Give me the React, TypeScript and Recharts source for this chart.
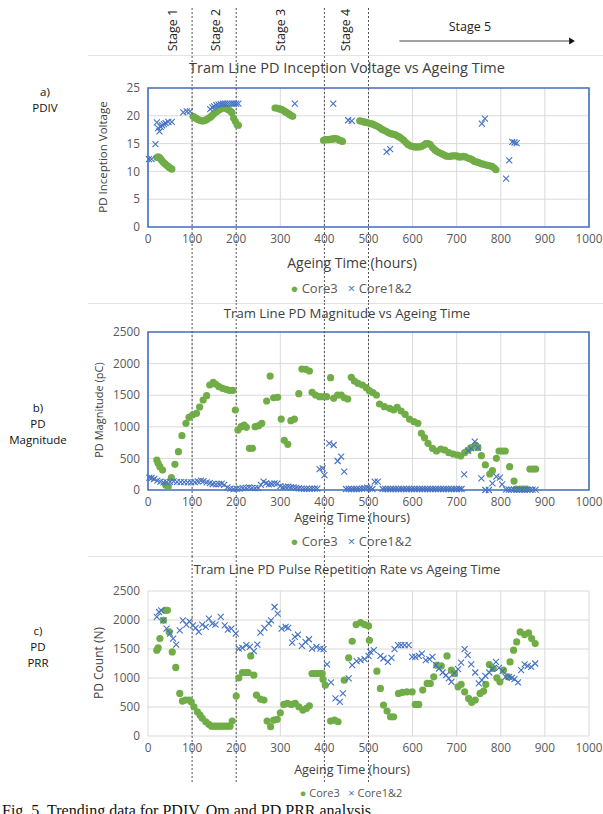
import React from 'react';
import { ScatterChart, Scatter, XAxis, YAxis, CartesianGrid, ReferenceLine, ReferenceArea } from 'recharts';

// ageing time axis (hours) + stage boundaries
const HOUR_TICKS = [0, 100, 200, 300, 400, 500, 600, 700, 800, 900, 1000];
const STAGE_BOUNDS = [100, 200, 400, 500];
const STAGE_LABELS = ['Stage 1', 'Stage 2', 'Stage 3', 'Stage 4'];
const STAGE_LABEL_AT = [55, 152, 300, 448];

const PDIV_TICKS = [0, 5, 10, 15, 20, 25];
const COUNT_TICKS = [0, 500, 1000, 1500, 2000, 2500];

// a) PDIV [hours, kV]
const pdivCore3: [number, number][] = [
  [20, 12.5], [23, 12.6], [26, 12.5], [29, 12.2], [32, 11.9], [35, 11.6], [38, 11.4], [41, 11.2], [44, 11.0], [47, 10.8], [50, 10.6], [54, 10.4],
  [102, 19.9], [106, 19.7], [110, 19.5], [114, 19.3], [118, 19.2], [122, 19.1], [126, 19.1], [130, 19.2], [134, 19.4], [138, 19.6], [142, 19.8],
  [146, 20.1], [150, 20.4], [154, 20.7], [158, 20.9], [162, 21.1], [166, 21.3], [170, 21.4], [174, 21.4], [178, 21.3], [182, 21.1], [186, 20.9],
  [190, 20.6], [194, 19.6], [198, 19.0], [202, 18.4], [205, 18.3],
  [288, 21.4], [292, 21.4], [296, 21.3], [300, 21.2], [304, 21.1], [308, 20.9], [312, 20.7], [316, 20.5], [320, 20.3], [324, 20.1], [328, 19.9],
  [398, 15.6], [402, 15.7], [406, 15.7], [410, 15.7], [414, 15.8], [418, 15.8], [422, 15.9], [426, 15.9], [430, 15.8], [434, 15.6], [438, 15.5], [441, 15.4],
  [480, 19.1], [485, 19.0], [490, 18.9], [495, 18.8], [500, 18.7], [505, 18.6], [510, 18.5], [515, 18.3], [520, 18.1], [525, 17.9], [530, 17.6],
  [535, 17.4], [540, 17.2], [545, 17.0], [550, 16.8], [555, 16.7], [560, 16.6], [565, 16.4], [570, 16.2], [575, 15.9], [580, 15.6], [585, 15.2],
  [590, 14.8], [595, 14.6], [600, 14.5], [605, 14.4], [610, 14.4], [615, 14.4], [620, 14.5], [625, 14.7], [630, 15.0], [635, 15.0], [640, 14.8],
  [645, 14.3], [650, 13.9], [655, 13.6], [660, 13.4], [665, 13.2], [670, 13.0], [675, 12.8], [680, 12.7], [685, 12.7], [690, 12.8], [695, 12.8],
  [700, 12.8], [705, 12.6], [710, 12.6], [715, 12.7], [720, 12.6], [725, 12.4], [730, 12.3], [735, 12.1], [740, 11.8], [745, 11.7], [750, 11.6],
  [755, 11.4], [760, 11.3], [765, 11.2], [770, 11.1], [775, 11.0], [780, 10.9], [785, 10.6], [789, 10.3],
];
const pdivCore12: [number, number][] = [
  [2, 12.2], [8, 12.2], [17, 14.9], [20, 18.8], [23, 17.8], [26, 17.2], [29, 18.0], [32, 18.3], [36, 18.5], [40, 18.7], [46, 18.9], [54, 18.9],
  [80, 20.6], [88, 20.8], [95, 20.8], [141, 21.2], [146, 21.5], [150, 21.7], [155, 21.9], [160, 22.0], [165, 22.1], [170, 22.2], [175, 22.2],
  [180, 22.2], [185, 22.2], [190, 22.2], [195, 22.2], [200, 22.2], [205, 22.2], [333, 22.2], [420, 22.2], [454, 19.2], [462, 19.1],
  [541, 13.5], [549, 14.0], [757, 18.6], [764, 19.5], [812, 8.7], [819, 12.0], [826, 15.3], [831, 15.2], [836, 15.1],
];

// b) PD magnitude [hours, pC]
const magCore3: [number, number][] = [
  [20, 475], [23, 422], [27, 369], [33, 316], [40, 79], [46, 53], [53, 195], [61, 406], [69, 606], [77, 859], [86, 1055], [93, 1150], [101, 1187],
  [110, 1213], [117, 1313], [125, 1424], [133, 1492], [140, 1661], [148, 1703], [154, 1672], [161, 1635], [169, 1609], [177, 1593], [184, 1577],
  [192, 1577], [198, 1266], [204, 949], [211, 1002], [218, 1028], [223, 992], [230, 659], [237, 659], [243, 1002], [251, 1018], [258, 1055],
  [269, 1408], [277, 1803], [285, 1460], [294, 1466], [302, 1123], [309, 786], [317, 723], [324, 1097], [332, 1123], [342, 1524], [349, 1914],
  [358, 1909], [366, 1883], [372, 1545], [380, 1503], [389, 1476], [398, 1476], [405, 1476], [414, 1777], [421, 1450], [430, 1503], [438, 1503],
  [445, 1460], [453, 1440], [461, 1783], [468, 1724], [476, 1688], [486, 1661], [495, 1619], [502, 1571], [510, 1540], [518, 1503], [525, 1361],
  [536, 1318], [548, 1292], [557, 1266], [565, 1308], [574, 1250], [583, 1197], [593, 1123], [603, 1081], [612, 1055], [620, 897], [627, 828],
  [635, 739], [645, 659], [654, 617], [664, 649], [673, 633], [682, 590], [692, 570], [702, 554], [709, 538], [718, 590], [726, 633], [733, 669],
  [743, 712], [748, 669], [756, 543], [765, 396], [775, 253], [781, 305], [790, 501], [796, 617], [803, 617], [810, 617], [820, 369], [830, 142],
  [835, 16], [843, 16], [851, 16], [858, 16], [866, 332], [873, 332], [879, 332],
];
const magCore12: [number, number][] = [
  [3, 195], [8, 190], [14, 174], [21, 148], [28, 132], [35, 121], [42, 125], [50, 130], [58, 135], [66, 130], [74, 125], [82, 125], [90, 122],
  [98, 120], [106, 125], [113, 135], [120, 150], [126, 140], [133, 120], [140, 110], [147, 95], [154, 90], [161, 95], [167, 100], [173, 80],
  [180, 40], [187, 20], [194, 15], [201, 18], [208, 22], [215, 28], [222, 35], [229, 40], [236, 32], [243, 28], [250, 30], [256, 80], [262, 132],
  [268, 110], [274, 90], [280, 95], [287, 105], [293, 100], [300, 60], [306, 45], [312, 50], [318, 55], [324, 45], [330, 40], [336, 35], [342, 25],
  [348, 20], [354, 18], [360, 18], [366, 18], [372, 20], [378, 20], [384, 22], [389, 332], [396, 343], [400, 237], [411, 738], [421, 712],
  [430, 459], [438, 527], [445, 290], [449, 16], [455, 16], [461, 16], [467, 16], [473, 16], [479, 16], [485, 20], [491, 28], [497, 37],
  [503, 25], [509, 16], [514, 132], [521, 132], [532, 16], [538, 16], [544, 16], [550, 16], [556, 16], [562, 16], [568, 16], [574, 16],
  [580, 16], [586, 16], [592, 16], [598, 16], [604, 16], [610, 16], [616, 16], [622, 16], [628, 16], [634, 16], [640, 16], [646, 16], [652, 16],
  [658, 16], [664, 16], [670, 16], [676, 16], [682, 16], [688, 16], [694, 16], [700, 16], [706, 16], [711, 16], [717, 248], [726, 620],
  [733, 660], [741, 764], [748, 669], [756, 185], [765, 0], [773, 0], [781, 105], [790, 211], [798, 195], [803, 90], [812, 5], [818, 5],
  [824, 5], [830, 5], [836, 5], [842, 5], [848, 5], [854, 5], [860, 5], [866, 5], [872, 5], [879, 5],
];

// c) PD pulse repetition rate [hours, count]
const prrCore3: [number, number][] = [
  [20, 1479], [23, 1519], [27, 1680], [35, 1995], [39, 2167], [44, 2167], [48, 1794], [55, 1450], [63, 1182], [72, 734], [78, 602], [85, 619],
  [93, 619], [98, 590], [104, 504], [112, 418], [118, 361], [123, 304], [131, 246], [138, 201], [144, 170], [150, 170], [156, 170], [162, 170],
  [168, 170], [174, 170], [180, 170], [186, 170], [191, 258], [200, 688], [206, 1003], [214, 1095], [221, 1095], [227, 1095], [233, 1381],
  [240, 1049], [246, 705], [255, 636], [263, 619], [270, 258], [278, 160], [285, 275], [293, 287], [300, 401], [308, 545], [316, 562], [325, 545],
  [334, 562], [342, 504], [351, 447], [359, 476], [366, 521], [372, 1078], [378, 1078], [384, 1078], [390, 1078], [395, 1078], [397, 975],
  [402, 877], [414, 258], [423, 275], [431, 246], [445, 963], [455, 1347], [463, 1634], [472, 1921], [482, 1956], [491, 1921], [500, 1897],
  [502, 1651], [519, 1118], [527, 820], [534, 533], [542, 430], [550, 332], [557, 332], [568, 734], [577, 752], [587, 762], [599, 762],
  [606, 545], [614, 545], [623, 791], [633, 906], [640, 906], [648, 1020], [655, 1221], [665, 1209], [678, 1381], [688, 1135], [695, 1078],
  [703, 848], [710, 889], [718, 762], [727, 648], [734, 579], [742, 619], [753, 734], [761, 774], [766, 889], [774, 1233], [783, 1164],
  [791, 1003], [798, 934], [806, 1135], [816, 1020], [821, 1278], [829, 1479], [836, 1622], [844, 1794], [854, 1749], [863, 1777], [870, 1680],
  [878, 1594],
];
const prrCore12: [number, number][] = [
  [20, 2052], [25, 2138], [30, 2167], [35, 1995], [42, 1852], [50, 1766], [57, 1680], [64, 1577], [72, 1823], [79, 1995], [87, 1921], [94, 1978],
  [102, 1909], [108, 1863], [115, 1794], [123, 1921], [131, 1880], [138, 2024], [146, 1938], [153, 1921], [165, 2052], [174, 1909], [181, 1835],
  [189, 1852], [199, 1766], [206, 1508], [214, 1519], [223, 1565], [231, 1536], [240, 1462], [248, 1577], [255, 1784], [264, 1863], [274, 1938],
  [279, 1995], [287, 2224], [294, 2110], [303, 1852], [312, 1880], [318, 1863], [327, 1611], [333, 1708], [340, 1749], [349, 1553], [357, 1622],
  [365, 1668], [372, 1508], [382, 1536], [391, 1508], [398, 1496], [406, 1233], [415, 923], [425, 648], [435, 590], [442, 734], [455, 992],
  [463, 1221], [473, 1290], [482, 1307], [491, 1324], [500, 1381], [504, 1450], [512, 1479], [527, 1381], [534, 1336], [544, 1278], [552, 1347],
  [559, 1496], [567, 1565], [574, 1565], [582, 1565], [591, 1565], [599, 1364], [606, 1364], [614, 1381], [621, 1422], [630, 1307], [638, 1324],
  [645, 1364], [653, 1221], [660, 1164], [668, 1095], [676, 1049], [682, 992], [688, 934], [695, 1078], [703, 1152], [710, 1267], [718, 1496],
  [725, 1393], [733, 1233], [742, 1095], [750, 906], [757, 963], [765, 1037], [774, 1095], [781, 1164], [789, 1278], [796, 1175], [804, 1118],
  [811, 1020], [819, 1020], [825, 1003], [831, 980], [839, 923], [846, 1135], [854, 1233], [861, 1209], [869, 1192], [878, 1250],
];

const W = 603;
const PLOT_LEFT = 148;
const PLOT_RIGHT = 589;
const MID = 347;
const FONT = '"Open Sans", "Liberation Sans", sans-serif';
const GREEN = '#70ad47';
const BLUE = '#4472c4';
const GREY_TEXT = '#595959';
const GRID = '#d9d9d9';

const toPts = (arr: [number, number][]) => arr.map(([x, y]) => ({ x, y }));
const hx = (h: number) => PLOT_LEFT + (h / 1000) * (PLOT_RIGHT - PLOT_LEFT);

const GreenDot = (p: any) => <circle cx={p.cx} cy={p.cy} r={3.6} fill={GREEN} />;
const BlueX = (p: any) => {
  const s = 3;
  return (
    <path
      d={`M${p.cx - s},${p.cy - s}L${p.cx + s},${p.cy + s}M${p.cx - s},${p.cy + s}L${p.cx + s},${p.cy - s}`}
      stroke={BLUE}
      strokeWidth={1.1}
      fill="none"
    />
  );
};

// dashed stage boundary running through the whole band, not only the plot
const stageLine = (y1: number, y2: number) => (p: any) => (
  <line x1={p.x1} x2={p.x1} y1={y1} y2={y2} stroke="#555" strokeWidth={1} strokeDasharray="2 2" />
);

function Txt({ x, y, size = 12, color = '#404040', rotate = false, lh = 1, children }: any) {
  return (
    <div
      style={{
        position: 'absolute',
        left: x,
        top: y,
        transform: `translate(-50%, -50%)${rotate ? ' rotate(-90deg)' : ''}`,
        whiteSpace: 'nowrap',
        fontFamily: FONT,
        fontSize: size,
        lineHeight: lh,
        color,
        textAlign: 'center',
      }}
    >
      {children}
    </div>
  );
}

function Legend({ y, size }: { y: number; size: number }) {
  return (
    <Txt x={351} y={y} size={size} color={GREY_TEXT}>
      <span style={{ color: GREEN }}>●</span> Core3 &nbsp;&nbsp;<span style={{ color: BLUE }}>×</span> Core1&amp;2
    </Txt>
  );
}

function Panel({ top, height, plotTop, plotBottom, yMax, yTicks, border, core3, core12, lineTop, lineBottom }: any) {
  const axisH = 30;
  const tick = { fill: GREY_TEXT, fontSize: 11.8, fontFamily: FONT };
  return (
    <div style={{ position: 'absolute', left: 0, top, width: W, height }}>
      <ScatterChart
        width={W}
        height={height}
        margin={{ top: plotTop, right: W - PLOT_RIGHT, bottom: height - plotBottom - axisH, left: PLOT_LEFT - 40 }}
      >
        <CartesianGrid stroke={GRID} />
        <XAxis type="number" dataKey="x" domain={[0, 1000]} ticks={HOUR_TICKS} interval={0} height={axisH} axisLine={false} tickLine={false} tick={tick} />
        <YAxis type="number" dataKey="y" domain={[0, yMax]} ticks={yTicks} interval={0} width={40} axisLine={false} tickLine={false} tick={tick} />
        {border && (
          <ReferenceArea x1={0} x2={1000} y1={0} y2={yMax} fill="none" fillOpacity={0} stroke={BLUE} strokeWidth={1.6} />
        )}
        <Scatter data={toPts(core3)} shape={GreenDot} isAnimationActive={false} />
        <Scatter data={toPts(core12)} shape={BlueX} isAnimationActive={false} />
        {STAGE_BOUNDS.map((b) => (
          <ReferenceLine key={b} x={b} shape={stageLine(lineTop, lineBottom)} />
        ))}
      </ScatterChart>
    </div>
  );
}

export default function App() {
  const sep = (y: number) => (
    <div style={{ position: 'absolute', left: 88, top: y, width: W - 88, height: 1, background: '#e3e3e3' }} />
  );
  return (
    <div style={{ position: 'absolute', left: 0, top: 0, width: W, height: 814, background: '#fff', overflow: 'hidden' }}>
      {sep(55)}
      {sep(303)}
      {sep(556)}

      <Panel top={0} height={303} plotTop={88} plotBottom={227} yMax={25} yTicks={PDIV_TICKS} border
        core3={pdivCore3} core12={pdivCore12} lineTop={8} lineBottom={303} />
      <Panel top={303} height={253} plotTop={29} plotBottom={187} yMax={2500} yTicks={COUNT_TICKS} border
        core3={magCore3} core12={magCore12} lineTop={0} lineBottom={253} />
      <Panel top={556} height={258} plotTop={35} plotBottom={180} yMax={2500} yTicks={COUNT_TICKS} border={false}
        core3={prrCore3} core12={prrCore12} lineTop={0} lineBottom={228} />

      {/* stage annotations */}
      <svg width={W} height={56} style={{ position: 'absolute', left: 0, top: 0 }}>
        {STAGE_LABELS.map((s, i) => (
          <text key={s} x={hx(STAGE_LABEL_AT[i])} y={30} transform={`rotate(-90 ${hx(STAGE_LABEL_AT[i])} 30)`}
            textAnchor="middle" dominantBaseline="central" fontFamily={FONT} fontSize={12.5} fill="#222">{s}</text>
        ))}
        <text x={hx(730)} y={31} textAnchor="middle" fontFamily={FONT} fontSize={12.5} fill="#222">Stage 5</text>
        <line x1={hx(570)} x2={hx(955)} y1={41} y2={41} stroke="#444" strokeWidth={1} />
        <polygon points={`${hx(955)},37.5 ${hx(968)},41 ${hx(955)},44.5`} fill="#111" />
      </svg>

      {/* chart titles */}
      <Txt x={MID} y={68} size={14.5}>Tram Line PD Inception Voltage vs Ageing Time</Txt>
      <Txt x={MID} y={314} size={13.2}>Tram Line PD Magnitude vs Ageing Time</Txt>
      <Txt x={MID} y={569} size={13}>Tram Line PD Pulse Repetition Rate vs Ageing Time</Txt>

      {/* axis titles */}
      <Txt x={103} y={157} size={11.5} rotate>PD Inception Voltage</Txt>
      <Txt x={98} y={410} size={11} rotate>PD Magnitude (pC)</Txt>
      <Txt x={99} y={663} size={12} rotate>PD Count (N)</Txt>
      <Txt x={MID + 5} y={263} size={14}>Ageing Time (hours)</Txt>
      <Txt x={MID + 5} y={518} size={12.5}>Ageing Time (hours)</Txt>
      <Txt x={MID + 5} y={770} size={12.5}>Ageing Time (hours)</Txt>

      <Legend y={288} size={13} />
      <Legend y={541} size={13} />
      <Legend y={792} size={11} />

      {/* row labels */}
      <Txt x={45} y={100} size={11.5} lh="16px" color="#111">a)<br />PDIV</Txt>
      <Txt x={38} y={424} size={11.5} lh="16px" color="#111">b)<br />PD<br />Magnitude</Txt>
      <Txt x={38} y={647} size={11.5} lh="16px" color="#111">c)<br />PD<br />PRR</Txt>

      <div style={{ position: 'absolute', left: 2, top: 803, fontFamily: '"Liberation Serif", serif', fontSize: 16, lineHeight: 1, color: '#111', whiteSpace: 'nowrap' }}>
        Fig. 5. Trending data for PDIV, Qm and PD PRR analysis
      </div>
    </div>
  );
}
